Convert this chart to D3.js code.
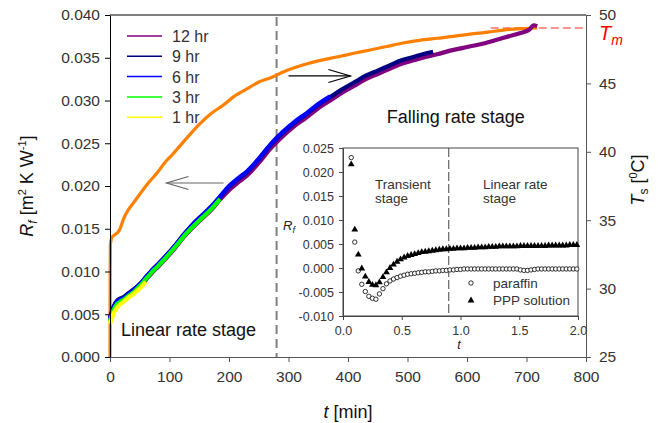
<!DOCTYPE html>
<html>
<head>
<meta charset="utf-8">
<script src="https://cdn.jsdelivr.net/npm/d3@7"></script>
<style>
  html, body { margin: 0; padding: 0; background: #fff; }
  svg { display: block; font-family: "Liberation Sans", Arial, sans-serif; }
</style>
</head>
<body>
<svg id="chart" width="666" height="423"></svg>
<script>
// ---- Main chart: fouling resistance (left axis) and surface temperature (right axis) ----
const xTicks = [0, 100, 200, 300, 400, 500, 600, 700, 800];
const rfTicks = [0, 0.005, 0.010, 0.015, 0.020, 0.025, 0.030, 0.035, 0.040];
const tsTicks = [25, 30, 35, 40, 45, 50];

const seriesNames = ["12 hr", "9 hr", "6 hr", "3 hr", "1 hr"];
const seriesColors = ["#800080", "#000080", "#0000ff", "#00ff00", "#ffff00"];

// Rf [m2 K/W] vs t [min] for each run
const rf12hr = [[0,0.0043],[3,0.0050],[6,0.0056],[9,0.0060],[12,0.0063],[16,0.0065],[20,0.0066],[25,0.0068],[30,0.0071],[40,0.0076],[50,0.0082],[60,0.0090],[70,0.0098],[80,0.0105],[95,0.0116],[110,0.0128],[125,0.0141],[140,0.0152],[155,0.0162],[170,0.0172],[185,0.0184],[200,0.0195],[215,0.0204],[230,0.0212],[250,0.0227],[270,0.0244],[290,0.0258],[310,0.0270],[330,0.0280],[350,0.0291],[370,0.0300],[390,0.0309],[410,0.0317],[430,0.0325],[450,0.0331],[470,0.0337],[490,0.0343],[510,0.0347],[530,0.0351],[550,0.0354],[570,0.0358],[590,0.0361],[610,0.0364],[630,0.0367],[650,0.0371],[670,0.0375],[690,0.0379],[705,0.0383],[712,0.0388],[718,0.0387]];
const rf9hr = [[0,0.0046],[3,0.0053],[6,0.0059],[9,0.0063],[12,0.0066],[16,0.0068],[20,0.0069],[25,0.0071],[30,0.0074],[40,0.0079],[50,0.0085],[60,0.0093],[70,0.0101],[80,0.0108],[95,0.0119],[110,0.0131],[125,0.0144],[140,0.0155],[155,0.0165],[170,0.0175],[185,0.0187],[200,0.0199],[215,0.0208],[230,0.0216],[250,0.0231],[270,0.0248],[290,0.0262],[310,0.0274],[330,0.0284],[350,0.0295],[370,0.0304],[390,0.0313],[410,0.0321],[430,0.0329],[450,0.0335],[470,0.0341],[490,0.0347],[510,0.0351],[530,0.0355],[543,0.0357]];
const rf6hr = [[0,0.0045],[3,0.0052],[6,0.0058],[9,0.0062],[12,0.0065],[16,0.0067],[20,0.0068],[25,0.0070],[30,0.0073],[40,0.0079],[50,0.0085],[60,0.0093],[70,0.0101],[80,0.0108],[95,0.0119],[110,0.0131],[125,0.0144],[140,0.0156],[155,0.0166],[170,0.0176],[185,0.0188],[200,0.0200],[215,0.0209],[230,0.0217],[250,0.0232],[270,0.0249],[290,0.0263],[310,0.0275],[330,0.0285],[350,0.0296],[370,0.0305]];
const rf3hr = [[0,0.0042],[3,0.0049],[6,0.0055],[9,0.0059],[12,0.0062],[16,0.0064],[20,0.0066],[25,0.0068],[30,0.0071],[40,0.0076],[50,0.0083],[60,0.0091],[70,0.0099],[80,0.0106],[95,0.0117],[110,0.0129],[125,0.0142],[140,0.0153],[155,0.0163],[170,0.0173],[185,0.0185]];
const rf1hr = [[0,0.0039],[3,0.0045],[6,0.0051],[9,0.0055],[12,0.0058],[16,0.0061],[20,0.0063],[25,0.0066],[30,0.0069],[40,0.0074],[50,0.0080],[60,0.0088]];
const rfSeries = [rf12hr, rf9hr, rf6hr, rf3hr, rf1hr];

// Ts [°C] vs t [min]
const tsOrange = [[0,25.0],[0.3,31.0],[0.6,33.2],[2,33.6],[4,33.8],[7,33.9],[10,34.0],[13,34.1],[16,34.3],[18,34.5],[22,35.0],[26,35.4],[30,35.7],[40,36.3],[50,36.9],[64,37.7],[80,38.5],[92,39.2],[105,39.8],[113,40.2],[129,41.0],[150,42.0],[170,42.8],[190,43.4],[207,44.0],[230,44.6],[250,45.1],[269,45.4],[300,46.0],[324,46.35],[350,46.65],[381,46.93],[410,47.2],[437,47.44],[465,47.7],[492,47.95],[520,48.15],[550,48.3],[580,48.45],[605,48.6],[635,48.75],[661,48.9],[690,49.0],[718,49.05]];

const tStageBoundary = 280;   // min
const tMelt = 49.05;          // °C

// ---- Inset: dimensionless time vs Rf ----
const insetXTicks = [0.0, 0.5, 1.0, 1.5, 2.0];
const insetYTicks = [-0.010, -0.005, 0.000, 0.005, 0.010, 0.015, 0.020, 0.025];
const insetT0 = 0.07, insetDt = 0.03;
const paraffinRf = [0.0230,0.0054,-0.0006,-0.0034,-0.0049,-0.0059,-0.0063,-0.0065,-0.0054,-0.0043,-0.0033,-0.0027,-0.0023,-0.0020,-0.0017,-0.0015,-0.0013,-0.0012,-0.0011,-0.0010,-0.0009,-0.0008,-0.0008,-0.0007,-0.0006,-0.0006,-0.0005,-0.0005,-0.0004,-0.0004,-0.0003,-0.0003,-0.0002,-0.0002,-0.0002,-0.0002,-0.0002,-0.0002,-0.0002,-0.0002,-0.0002,-0.0002,-0.0002,-0.0002,-0.0002,-0.0002,-0.0002,-0.0002,-0.0004,-0.0005,-0.0005,-0.0004,-0.0003,-0.0002,-0.0002,-0.0002,-0.0002,-0.0002,-0.0002,-0.0002,-0.0002,-0.0002,-0.0002,-0.0002,-0.0002];
const pppRf = [0.0216,0.0080,0.0028,-0.0001,-0.0018,-0.0029,-0.0035,-0.0036,-0.0030,-0.0019,-0.0009,0.0000,0.0007,0.0013,0.0018,0.0022,0.0025,0.0027,0.0029,0.0031,0.0033,0.0034,0.0035,0.0036,0.0037,0.0038,0.0039,0.0039,0.0040,0.0040,0.0041,0.0041,0.0041,0.0042,0.0042,0.0042,0.0043,0.0043,0.0043,0.0044,0.0044,0.0044,0.0045,0.0045,0.0045,0.0045,0.0045,0.0045,0.0046,0.0046,0.0046,0.0046,0.0046,0.0046,0.0046,0.0046,0.0047,0.0047,0.0047,0.0047,0.0047,0.0047,0.0048,0.0048,0.0048];
const tInsetBoundary = 0.9;

const svg = d3.select("#chart");
const tickColor = "#333";

const x = d3.scaleLinear([0, 800], [110, 586]);
const yL = d3.scaleLinear([0, 0.04], [357, 15]);
const yR = d3.scaleLinear([25, 50], [357, 15]);

// top frame line
svg.append("line").attr("x1", x(0)).attr("x2", x(800)).attr("y1", yL(0.04)).attr("y2", yL(0.04))
  .attr("stroke", "#000").attr("stroke-width", 1);

// stage boundary
svg.append("line").attr("x1", x(tStageBoundary)).attr("x2", x(tStageBoundary))
  .attr("y1", yL(0.04) + 2).attr("y2", yL(0))
  .attr("stroke", "#808080").attr("stroke-width", 2).attr("stroke-dasharray", "9,5");

// melting temperature line
svg.append("line").attr("x1", x(640)).attr("x2", x(797)).attr("y1", yR(tMelt)).attr("y2", yR(tMelt))
  .attr("stroke", "#ff7070").attr("stroke-width", 1.5).attr("stroke-dasharray", "8,4");

// Ts curve
const tsLine = d3.line().x(d => x(d[0])).y(d => yR(d[1])).curve(d3.curveMonotoneX);
svg.append("path").datum(tsOrange).attr("d", tsLine)
  .attr("fill", "none").attr("stroke", "#ff8000").attr("stroke-width", 3.2).attr("stroke-linejoin", "round");

// Rf curves, longest run underneath
const rfLine = d3.line().x(d => x(d[0])).y(d => yL(d[1])).curve(d3.curveMonotoneX);
rfSeries.forEach((s, i) => {
  svg.append("path").datum(s).attr("d", rfLine)
    .attr("fill", "none").attr("stroke", seriesColors[i])
    .attr("stroke-width", 4.2).attr("stroke-linejoin", "round");
});

// axes
function styleAxis(g, lineColor) {
  g.selectAll(".domain").attr("stroke", lineColor);
  g.selectAll(".tick line").attr("stroke", lineColor);
  g.selectAll(".tick text").attr("fill", tickColor).style("font-size", "15.5px")
    .style("font-family", "'Liberation Sans', Arial, sans-serif");
}
const gx = svg.append("g").attr("transform", `translate(0,${yL(0)})`)
  .call(d3.axisBottom(x).tickValues(xTicks).tickSize(5).tickSizeOuter(0).tickPadding(9).tickFormat(d3.format("d")));
styleAxis(gx, "#555");
const gyL = svg.append("g").attr("transform", `translate(${x(0)},0)`)
  .call(d3.axisLeft(yL).tickValues(rfTicks).tickSize(5).tickSizeOuter(0).tickPadding(5).tickFormat(d3.format(".3f")));
styleAxis(gyL, "#000");
const gyR = svg.append("g").attr("transform", `translate(${x(800)},0)`)
  .call(d3.axisRight(yR).tickValues(tsTicks).tickSize(5).tickSizeOuter(0).tickPadding(8).tickFormat(d3.format("d")));
styleAxis(gyR, "#555");

// axis titles
const xTitle = svg.append("text").attr("x", 348).attr("y", 418).attr("text-anchor", "middle")
  .style("font-size", "18px").attr("fill", "#111");
xTitle.append("tspan").style("font-style", "italic").text("t");
xTitle.append("tspan").text(" [min]");

const yTitle = svg.append("text").attr("transform", "translate(33,186) rotate(-90)")
  .attr("text-anchor", "middle").style("font-size", "18px").attr("fill", "#111");
yTitle.append("tspan").style("font-style", "italic").text("R");
yTitle.append("tspan").style("font-style", "italic").style("font-size", "12px").attr("dy", 4).text("f");
yTitle.append("tspan").attr("dy", -4).text(" [m");
yTitle.append("tspan").style("font-size", "11px").attr("dy", -7).text("2");
yTitle.append("tspan").attr("dy", 7).text(" K W");
yTitle.append("tspan").style("font-size", "11px").attr("dy", -7).text("-1");
yTitle.append("tspan").attr("dy", 7).text("]");

const rTitle = svg.append("text").attr("transform", "translate(644,180) rotate(-90)")
  .attr("text-anchor", "middle").style("font-size", "18px").attr("fill", "#111");
rTitle.append("tspan").style("font-style", "italic").text("T");
rTitle.append("tspan").style("font-size", "12px").attr("dy", 4).text("s");
rTitle.append("tspan").attr("dy", -4).text(" [");
rTitle.append("tspan").style("font-size", "11px").attr("dy", -7).text("0");
rTitle.append("tspan").attr("dy", 7).text("C]");

// Tm label
const tmLabel = svg.append("text").attr("x", x(800) + 13).attr("y", yR(tMelt) + 12)
  .attr("fill", "#ff0000").style("font-size", "20px").style("font-style", "italic");
tmLabel.append("tspan").text("T");
tmLabel.append("tspan").style("font-size", "14px").attr("dy", 5).text("m");

// arrows pointing at curves
function arrow(t0, r0, t1, color) {
  const x0 = x(t0), x1 = x(t1), yy = yL(r0);
  const dir = Math.sign(x0 - x1);
  const g = svg.append("g").attr("stroke", color).attr("stroke-width", 1.2).attr("fill", "none");
  g.append("line").attr("x1", x0).attr("x2", x1).attr("y1", yy).attr("y2", yy);
  g.append("polyline").attr("points", `${x1 + dir * 22},${yy - 6.5} ${x1},${yy} ${x1 + dir * 22},${yy + 6.5}`);
}
arrow(191, 0.02035, 95, "#666");
arrow(300, 0.03287, 404, "#000");

// stage labels
svg.append("text").attr("x", x(18.5)).attr("y", 336).style("font-size", "18px").attr("fill", "#111")
  .text("Linear rate stage");
svg.append("text").attr("x", x(465)).attr("y", 123).style("font-size", "18px").attr("fill", "#111")
  .text("Falling rate stage");

// legend
const legend = svg.append("g");
seriesNames.forEach((name, i) => {
  const yy = 36 + i * 20.3;
  legend.append("line").attr("x1", 127).attr("x2", 162).attr("y1", yy).attr("y2", yy)
    .attr("stroke", seriesColors[i]).attr("stroke-width", 1.5);
  legend.append("text").attr("x", 172).attr("y", yy + 6).style("font-size", "16px").attr("fill", "#333").text(name);
});

// ---- inset ----
const xi = d3.scaleLinear([0, 2], [343, 578]);
const yi = d3.scaleLinear([-0.010, 0.025], [316, 148]);
const inset = svg.append("g");
inset.append("rect").attr("x", xi(0)).attr("y", yi(0.025)).attr("width", xi(2) - xi(0)).attr("height", yi(-0.01) - yi(0.025))
  .attr("fill", "#fff").attr("stroke", "#444").attr("stroke-width", 1);

inset.append("line").attr("x1", xi(tInsetBoundary)).attr("x2", xi(tInsetBoundary))
  .attr("y1", yi(0.025)).attr("y2", yi(-0.01))
  .attr("stroke", "#444").attr("stroke-width", 1).attr("stroke-dasharray", "9,3");

const gxi = inset.append("g").attr("transform", `translate(0,${yi(-0.01)})`)
  .call(d3.axisBottom(xi).tickValues(insetXTicks).tickSize(4).tickSizeOuter(0).tickPadding(6).tickFormat(d3.format(".1f")));
const gyi = inset.append("g").attr("transform", `translate(${xi(0)},0)`)
  .call(d3.axisLeft(yi).tickValues(insetYTicks).tickSize(4).tickSizeOuter(0).tickPadding(5).tickFormat(d3.format(".3f")));
[gxi, gyi].forEach(g => {
  g.selectAll(".domain").attr("stroke", "#444");
  g.selectAll(".tick line").attr("stroke", "#444");
  g.selectAll(".tick text").attr("fill", tickColor).style("font-size", "12.5px")
    .style("font-family", "'Liberation Sans', Arial, sans-serif");
});
gyi.selectAll(".tick text").text(d => d3.format(".3f")(d).replace("−", "-"));

inset.append("text").attr("x", 459).attr("y", 349).attr("text-anchor", "middle")
  .style("font-size", "12.5px").style("font-style", "italic").attr("fill", "#222").text("t");
const riLabel = inset.append("text").attr("x", 283).attr("y", 230).style("font-size", "13px").attr("fill", "#222");
riLabel.append("tspan").style("font-style", "italic").text("R");
riLabel.append("tspan").style("font-style", "italic").style("font-size", "9px").attr("dy", 3).text("f");

const stageTextStyle = sel => sel.style("font-size", "13.5px").attr("fill", "#333");
inset.append("text").attr("x", 375).attr("y", 189).call(stageTextStyle).text("Transient");
inset.append("text").attr("x", 375).attr("y", 203).call(stageTextStyle).text("stage");
inset.append("text").attr("x", 483).attr("y", 189).call(stageTextStyle).text("Linear rate");
inset.append("text").attr("x", 483).attr("y", 203).call(stageTextStyle).text("stage");

const insetT = i => insetT0 + insetDt * i;
inset.append("g").selectAll("circle").data(paraffinRf).join("circle")
  .attr("cx", (d, i) => xi(insetT(i))).attr("cy", d => yi(d)).attr("r", 2.2)
  .attr("fill", "#fff").attr("stroke", "#000").attr("stroke-width", 0.8);
const tri = d3.symbol().type(d3.symbolTriangle).size(20);
inset.append("g").selectAll("path").data(pppRf).join("path")
  .attr("transform", (d, i) => `translate(${xi(insetT(i))},${yi(d)})`).attr("d", tri).attr("fill", "#000");

// inset legend
inset.append("circle").attr("cx", 471).attr("cy", 283).attr("r", 2.2).attr("fill", "#fff").attr("stroke", "#000").attr("stroke-width", 0.8);
inset.append("text").attr("x", 493).attr("y", 287.5).call(stageTextStyle).text("paraffin");
inset.append("path").attr("transform", "translate(471,300.5)").attr("d", tri).attr("fill", "#000");
inset.append("text").attr("x", 493).attr("y", 305).call(stageTextStyle).text("PPP solution");
</script>
</body>
</html>
